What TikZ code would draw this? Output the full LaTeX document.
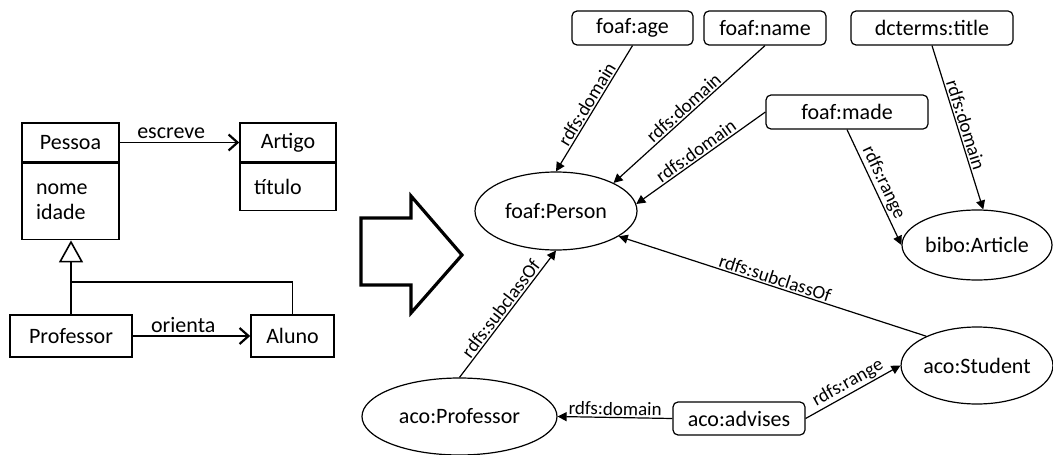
\documentclass[tikz,border=0pt]{standalone}
\usepackage{fontspec}
\setmainfont{Carlito}
\usetikzlibrary{positioning,shapes.geometric,arrows.meta}
\tikzset{
  umlbox/.style={draw,line width=1.6pt,inner sep=0pt,font=\fontsize{22}{25}\selectfont},
  umlrel/.style={line width=1.6pt,-{Straight Barb[length=9pt,width=16pt,line width=2.2pt]}},
  classnode/.style={draw,ellipse,line width=1.2pt,inner sep=0pt,font=\fontsize{22}{25}\selectfont},
  propnode/.style={draw,rounded corners=5pt,line width=1.2pt,inner sep=0pt,font=\fontsize{22}{25}\selectfont},
  rel/.style={line width=1.2pt,-{Triangle[length=9pt,width=9pt]}},
  lbl/.style={midway,above,sloped,inner sep=1.5pt,font=\fontsize{19}{21}\selectfont}
}
\begin{document}
\begin{tikzpicture}[x=1pt,y=-1pt]
\useasboundingbox (0,0) rectangle (1053,455);
\node[umlbox,minimum width=97pt,minimum height=39pt] (pessoa) at (70.5,142.5) {Pessoa};
\node[umlbox,minimum height=76pt,text width=69pt,inner xsep=14pt,align=left,below=0pt of pessoa] (pessoaattr) {nome\\idade};
\node[umlbox,minimum width=96pt,minimum height=39pt] (artigo) at (288,142.5) {Artigo};
\node[umlbox,minimum height=47pt,text width=68pt,inner xsep=14pt,align=left,below=0pt of artigo] (artigoattr) {título};
\node[umlbox,minimum width=122pt,minimum height=42pt] (prof) at (71,336) {Professor};
\node[umlbox,minimum width=83pt,minimum height=42pt] (aluno) at (292.5,336) {Aluno};
\coordinate (junction) at (71,282);
\draw[umlrel] (pessoa.east) -- (artigo.west) node[pos=0.43,above,inner sep=3pt,font=\fontsize{22}{25}\selectfont]{escreve};
\draw[umlrel] (prof.east) -- (aluno.west) node[pos=0.43,above,inner sep=3pt,font=\fontsize{22}{25}\selectfont]{orienta};
\draw[line width=1.6pt,-{Triangle[open,length=22pt,width=24pt]}] (prof.north) -- (prof.north |- pessoaattr.south);
\draw[line width=1.6pt] (aluno.north) |- (junction);

\draw[line width=3.2pt,line join=miter] (361,218) -- (411,218) -- (411,196) -- (462,255) -- (411,313) -- (411,285) -- (361,285) -- cycle;

\node[classnode,minimum width=162pt,minimum height=78pt] (person) at (556,211) {foaf:Person};
\node[propnode,minimum width=121pt,minimum height=34pt] (age) at (632.5,28) {foaf:age};
\node[propnode,minimum width=122pt,minimum height=34pt] (name) at (765,28) {foaf:name};
\node[propnode,minimum width=162pt,minimum height=34pt] (title) at (932,28) {dcterms:title};
\node[propnode,minimum width=162pt,minimum height=34pt] (made) at (847,112) {foaf:made};
\node[classnode,minimum width=150pt,minimum height=70pt] (article) at (977,245) {bibo:Article};
\node[classnode,minimum width=150pt,minimum height=77pt] (student) at (977,365.5) {aco:Student};
\node[classnode,minimum width=195pt,minimum height=77pt] (acoprof) at (459.5,416.5) {aco:Professor};
\node[propnode,minimum width=132pt,minimum height=33pt] (advises) at (739,418.5) {aco:advises};

\draw[rel] (age.south) -- (person.north) node[lbl]{rdfs:domain};
\draw[rel] (name.south) -- (person.26) node[lbl]{rdfs:domain};
\draw[rel] (made.west) -- (person.5) node[lbl]{rdfs:domain};
\draw[rel] (made.south) -- (article.west) node[lbl]{rdfs:range};
\draw[rel] (title.south) -- (article.80) node[lbl]{rdfs:domain};
\draw[rel] (student.150) -- (person.-22) node[lbl]{rdfs:subclassOf};
\draw[rel] (acoprof.north) -- (person.south) node[lbl]{rdfs:subclassOf};
\draw[rel] (advises.west) -- (acoprof.east) node[lbl]{rdfs:domain};
\draw[rel] (advises.east) -- (student.west) node[lbl]{rdfs:range};
\end{tikzpicture}
\end{document}
